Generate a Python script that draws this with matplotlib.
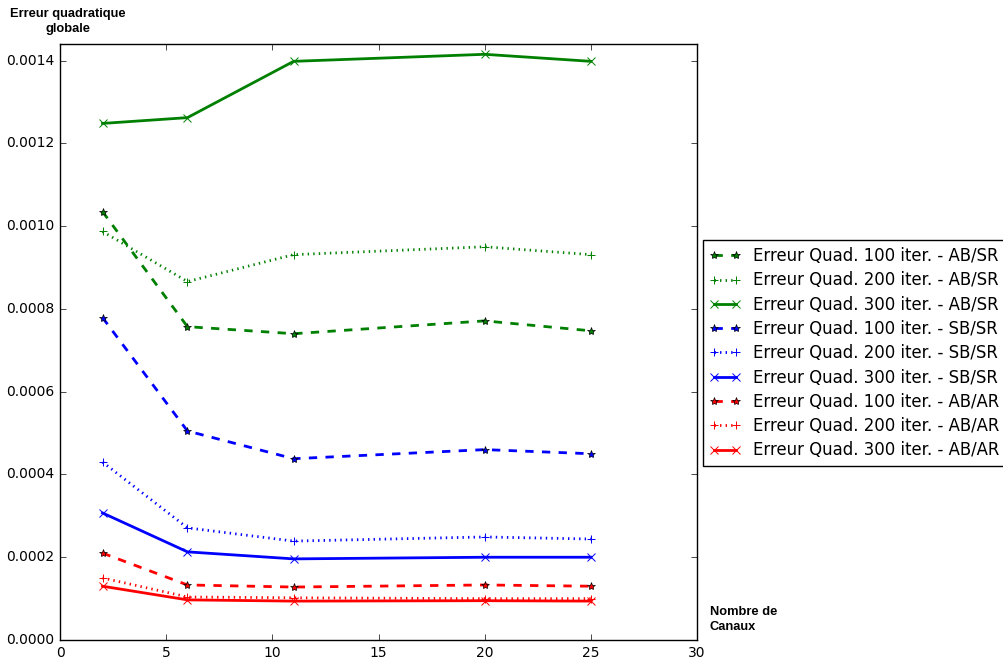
import matplotlib
matplotlib.use('Agg')
import matplotlib.pyplot as plt

plt.style.use('classic')

canaux = [2, 6, 11, 20, 25]

# erreur quadratique globale, par nombre d'iterations et configuration
ab_sr_100 = [0.001035, 0.000757, 0.000740, 0.000771, 0.000747]
ab_sr_200 = [0.000987, 0.000866, 0.000931, 0.000950, 0.000931]
ab_sr_300 = [0.001248, 0.001262, 0.001398, 0.001415, 0.001398]
sb_sr_100 = [0.000779, 0.000505, 0.000438, 0.000460, 0.000450]
sb_sr_200 = [0.000430, 0.000271, 0.000239, 0.000249, 0.000244]
sb_sr_300 = [0.000307, 0.000213, 0.000196, 0.000200, 0.000200]
ab_ar_100 = [0.000210, 0.000133, 0.000128, 0.000133, 0.000130]
ab_ar_200 = [0.000150, 0.000104, 0.000102, 0.000100, 0.000100]
ab_ar_300 = [0.000130, 0.000097, 0.000094, 0.000095, 0.000094]

series = [
    (ab_sr_100, 'g', '--', '*', 'Erreur Quad. 100 iter. - AB/SR'),
    (ab_sr_200, 'g', ':', '+', 'Erreur Quad. 200 iter. - AB/SR'),
    (ab_sr_300, 'g', '-', 'x', 'Erreur Quad. 300 iter. - AB/SR'),
    (sb_sr_100, 'b', '--', '*', 'Erreur Quad. 100 iter. - SB/SR'),
    (sb_sr_200, 'b', ':', '+', 'Erreur Quad. 200 iter. - SB/SR'),
    (sb_sr_300, 'b', '-', 'x', 'Erreur Quad. 300 iter. - SB/SR'),
    (ab_ar_100, 'r', '--', '*', 'Erreur Quad. 100 iter. - AB/AR'),
    (ab_ar_200, 'r', ':', '+', 'Erreur Quad. 200 iter. - AB/AR'),
    (ab_ar_300, 'r', '-', 'x', 'Erreur Quad. 300 iter. - AB/AR'),
]

fig = plt.figure(figsize=(10.04, 6.59), dpi=100, facecolor='white')
ax = fig.add_axes([0.0598, 0.0288, 0.6345, 0.9045])

for vals, c, ls, mk, lab in series:
    if mk == '*':
        kw = dict(markeredgecolor='k', markersize=6, markeredgewidth=0.5)
    else:
        kw = dict(markeredgecolor=c, markersize=5.5, markeredgewidth=0.7)
    ax.plot(canaux, vals, color=c, linestyle=ls, marker=mk, linewidth=2, label=lab, **kw)

ax.set_xlim(0, 30)
ax.set_ylim(0, 0.00144)
ax.set_yticks([0, 0.0002, 0.0004, 0.0006, 0.0008, 0.0010, 0.0012, 0.0014])
ax.set_yticklabels(['0.0000', '0.0002', '0.0004', '0.0006', '0.0008', '0.0010', '0.0012', '0.0014'])
ax.tick_params(labelsize=10)

ax.legend(loc='center left', bbox_to_anchor=(0.7, 0.464), bbox_transform=fig.transFigure,
          fontsize=11.9, numpoints=2, frameon=True, borderaxespad=0,
          labelspacing=0.38, handlelength=1.9, handletextpad=0.75)

fig.text(0.068, 0.988, 'Erreur quadratique\nglobale', ha='center', va='top',
         fontsize=9.3, fontweight='bold', family='Liberation Sans', linespacing=1.3)
fig.text(0.707, 0.080, 'Nombre de\nCanaux', ha='left', va='top',
         fontsize=9.3, fontweight='bold', family='Liberation Sans', linespacing=1.3)

fig.savefig('out.png', dpi=100, facecolor='white')
